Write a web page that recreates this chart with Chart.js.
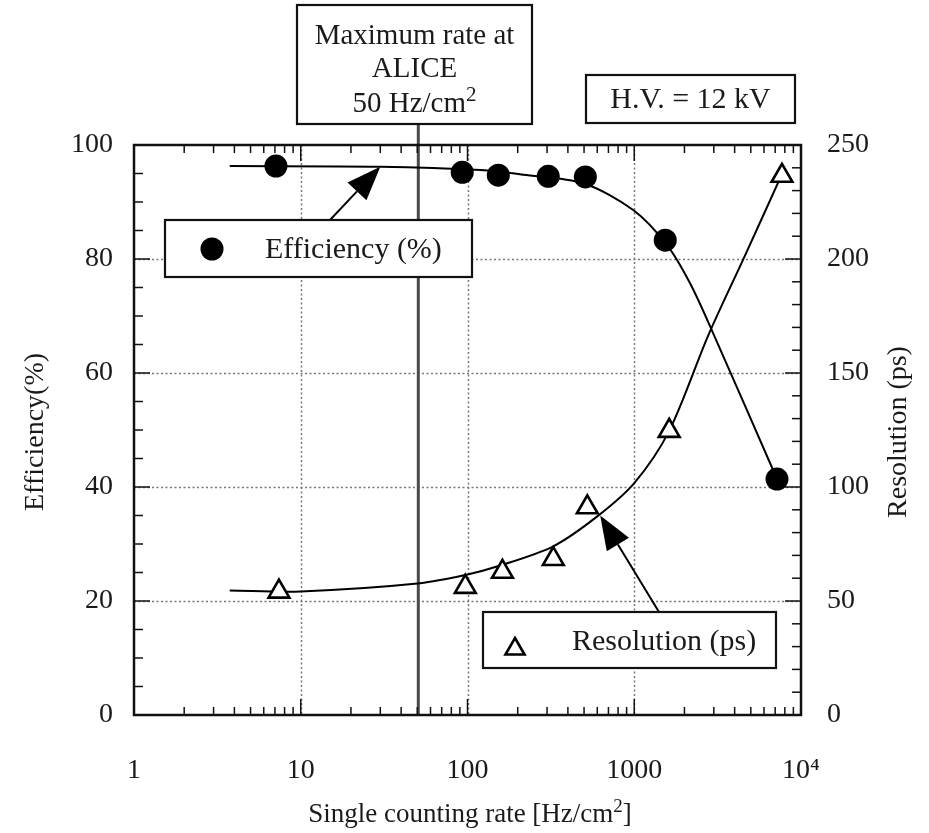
<!DOCTYPE html>
<html>
<head>
<meta charset="utf-8">
<script src="https://cdn.jsdelivr.net/npm/chart.js"></script>
<style>
html,body{margin:0;padding:0;background:#fff;}
canvas{display:block;}
</style>
</head>
<body>
<canvas id="c" width="929" height="833"></canvas>
<script>
// ---- data ----
const effRates   = [7.1, 93, 153, 305, 509, 1534, 7180];
const efficiency = [96.3, 95.2, 94.7, 94.5, 94.4, 83.3, 41.4];
const resRates   = [7.4, 97, 162, 327, 523, 1620, 7690];
const resolution = [54.1, 56.2, 62.8, 68.4, 91.1, 124.6, 236.5];

const effFitRates = [3.75, 30, 120, 216, 495, 986, 1577, 2165, 2930, 7180];
const effFit      = [96.3, 96.2, 95.6, 94.8, 93.3, 88.6, 82.4, 75.7, 67.4, 41.4];
const resFitRates = [3.75, 10, 52, 100, 150, 327, 600, 1000, 1620, 2775, 4620, 7690];
const resFit      = [54.6, 54.2, 57.8, 61.6, 65.1, 74.0, 87.1, 101.7, 124.6, 166.4, 201.6, 237.2];

const xTicks      = [1, 10, 100, 1000, 10000];
const xTickLabels = ['1', '10', '100', '1000', '10\u2074'];
const effTicks    = [0, 20, 40, 60, 80, 100];
const resTicks    = [0, 50, 100, 150, 200, 250];
const aliceRate   = 50;

const pts = (xs, ys) => xs.map((v, i) => ({x: v, y: ys[i]}));
const FONT = "'Liberation Serif', 'Times New Roman', serif";
const TXT = '#1a1a1a';

function drawParts(ctx, parts, x, y, size, align) {
  ctx.save();
  ctx.textBaseline = 'middle';
  ctx.textAlign = 'left';
  let w = 0;
  const widths = parts.map(p => {
    ctx.font = (p[1] ? Math.round(size * 0.72) : size) + 'px ' + FONT;
    const m = ctx.measureText(p[0]).width; w += m; return m;
  });
  let cx = align === 'center' ? x - w / 2 : (align === 'right' ? x - w : x);
  parts.forEach((p, i) => {
    ctx.font = (p[1] ? Math.round(size * 0.72) : size) + 'px ' + FONT;
    ctx.fillText(p[0], cx, p[1] ? y - size * 0.3 : y);
    cx += widths[i];
  });
  ctx.restore();
}

function arrow(ctx, x0, y0, x1, y1, len, hw) {
  const ang = Math.atan2(y1 - y0, x1 - x0);
  const bx = x1 - Math.cos(ang) * len, by = y1 - Math.sin(ang) * len;
  ctx.save();
  ctx.strokeStyle = '#000'; ctx.fillStyle = '#000'; ctx.lineWidth = 2;
  ctx.beginPath(); ctx.moveTo(x0, y0); ctx.lineTo(bx, by); ctx.stroke();
  ctx.beginPath();
  ctx.moveTo(x1, y1);
  ctx.lineTo(bx + Math.sin(ang) * hw, by - Math.cos(ang) * hw);
  ctx.lineTo(bx - Math.sin(ang) * hw, by + Math.cos(ang) * hw);
  ctx.closePath(); ctx.fill();
  ctx.restore();
}

function box(ctx, x, y, w, h) {
  ctx.save();
  ctx.fillStyle = '#fff'; ctx.strokeStyle = '#111'; ctx.lineWidth = 2.2;
  ctx.fillRect(x, y, w, h); ctx.strokeRect(x, y, w, h);
  ctx.restore();
}

const deco = {
  id: 'deco',
  beforeDatasetsDraw(chart) {
    const {ctx, chartArea: a, scales: {x, y}} = chart;
    ctx.save();
    ctx.strokeStyle = '#777'; ctx.lineWidth = 1.5; ctx.setLineDash([2, 2.5]);
    xTicks.slice(1, -1).forEach(v => {
      const px = Math.round(x.getPixelForValue(v)) + 0.5;
      ctx.beginPath(); ctx.moveTo(px, a.top); ctx.lineTo(px, a.bottom); ctx.stroke();
    });
    effTicks.slice(1, -1).forEach(v => {
      const py = Math.round(y.getPixelForValue(v)) + 0.5;
      ctx.beginPath(); ctx.moveTo(a.left, py); ctx.lineTo(a.right, py); ctx.stroke();
    });
    ctx.setLineDash([]);
    const ax = x.getPixelForValue(aliceRate) + 1;
    ctx.strokeStyle = '#4a4a4a'; ctx.lineWidth = 3;
    ctx.beginPath(); ctx.moveTo(ax, 124); ctx.lineTo(ax, a.bottom); ctx.stroke();
    ctx.restore();
  },
  afterDatasetsDraw(chart) {
    const {ctx, chartArea: a, scales: {x, y, y1}} = chart;
    ctx.save();
    ctx.strokeStyle = '#111'; ctx.lineWidth = 1.5;
    const tick = (x0, y0, x1, y1_) => { ctx.beginPath(); ctx.moveTo(x0, y0); ctx.lineTo(x1, y1_); ctx.stroke(); };
    for (let d = 1; d < 10000; d *= 10) {
      for (let m = 1; m < 10; m++) {
        const px = x.getPixelForValue(d * m);
        const L = m === 1 ? 16 : 8;
        tick(px, a.bottom, px, a.bottom - L);
        tick(px, a.top, px, a.top + L);
      }
    }
    for (let v = 0; v <= 100; v += 5) {
      const py = y.getPixelForValue(v);
      tick(a.left, py, a.left + (v % 20 === 0 ? 16 : 9), py);
    }
    for (let v = 0; v <= 250; v += 10) {
      const py = y1.getPixelForValue(v);
      tick(a.right, py, a.right - (v % 50 === 0 ? 16 : 9), py);
    }
    ctx.lineWidth = 2.5; ctx.strokeStyle = '#111';
    ctx.strokeRect(a.left, a.top, a.right - a.left, a.bottom - a.top);

    ctx.fillStyle = TXT;
    box(ctx, 297, 5, 235, 119);
    drawParts(ctx, [['Maximum rate at', 0]], 414.5, 36, 29, 'center');
    drawParts(ctx, [['ALICE', 0]], 414.5, 69, 29, 'center');
    drawParts(ctx, [['50 Hz/cm', 0], ['2', 1]], 414.5, 104, 29, 'center');

    box(ctx, 586, 75, 209, 48);
    drawParts(ctx, [['H.V. = 12 kV', 0]], 690.5, 100, 30, 'center');

    arrow(ctx, 330, 220, x.getPixelForValue(30), y.getPixelForValue(96.2), 34, 13);
    arrow(ctx, 659, 612, x.getPixelForValue(625), y1.getPixelForValue(87.5), 34, 13);

    box(ctx, 165, 220, 307, 57);
    ctx.fillStyle = '#000';
    ctx.beginPath(); ctx.arc(212, 249, 11.5, 0, Math.PI * 2); ctx.fill();
    ctx.fillStyle = TXT;
    drawParts(ctx, [['Efficiency (%)', 0]], 265, 250, 30, 'left');

    box(ctx, 483, 612, 293, 56);
    ctx.strokeStyle = '#000'; ctx.lineWidth = 2.6; ctx.fillStyle = '#fff';
    const tr = 11, tx = 515, ty = 649;
    ctx.beginPath();
    ctx.moveTo(tx, ty - tr);
    ctx.lineTo(tx + tr * Math.sin(2 * Math.PI / 3), ty - tr * Math.cos(2 * Math.PI / 3));
    ctx.lineTo(tx + tr * Math.sin(4 * Math.PI / 3), ty - tr * Math.cos(4 * Math.PI / 3));
    ctx.closePath(); ctx.fill(); ctx.stroke();
    ctx.fillStyle = TXT;
    drawParts(ctx, [['Resolution (ps)', 0]], 572, 642, 30, 'left');

    drawParts(ctx, [['Single counting rate [Hz/cm', 0], ['2', 1], [']', 0]], 470, 815, 27, 'center');
    ctx.save(); ctx.translate(36, 432); ctx.rotate(-Math.PI / 2);
    drawParts(ctx, [['Efficiency(%)', 0]], 0, 0, 28, 'center');
    ctx.restore();
    ctx.save(); ctx.translate(899, 432); ctx.rotate(-Math.PI / 2);
    drawParts(ctx, [['Resolution (ps)', 0]], 0, 0, 28, 'center');
    ctx.restore();
    ctx.restore();
  }
};

new Chart(document.getElementById('c'), {
  type: 'scatter',
  data: {
    datasets: [
      { label: 'Efficiency (%)', data: pts(effRates, efficiency), yAxisID: 'y',
        pointStyle: 'circle', pointRadius: 11.5, pointBackgroundColor: '#000', pointBorderColor: '#000',
        pointBorderWidth: 0, showLine: false },
      { label: 'Resolution (ps)', data: pts(resRates, resolution), yAxisID: 'y1',
        pointStyle: 'triangle', pointRadius: 12, pointBackgroundColor: '#fff', pointBorderColor: '#000',
        pointBorderWidth: 2.6, showLine: false },
      { label: 'eff fit', data: pts(effFitRates, effFit), yAxisID: 'y', showLine: true,
        borderColor: '#000', borderWidth: 2, pointRadius: 0, tension: 0.3 },
      { label: 'res fit', data: pts(resFitRates, resFit), yAxisID: 'y1', showLine: true,
        borderColor: '#000', borderWidth: 2, pointRadius: 0, tension: 0.3 }
    ]
  },
  options: {
    responsive: false, animation: false, devicePixelRatio: 1,
    layout: { padding: { top: 145, left: 0, right: 0, bottom: 0 } },
    plugins: { legend: { display: false }, tooltip: { enabled: false } },
    scales: {
      x: {
        type: 'logarithmic', min: 1, max: 10000, position: 'bottom',
        afterBuildTicks: s => { s.ticks = xTicks.map(v => ({value: v})); },
        afterFit: s => { s.height = 118; },
        grid: { display: false, drawTicks: false }, border: { display: false },
        ticks: { padding: 39, color: TXT, font: { family: FONT, size: 28 },
                 callback: v => { const i = xTicks.indexOf(v); return i >= 0 ? xTickLabels[i] : ''; },
                 maxRotation: 0, autoSkip: false }
      },
      y: {
        type: 'linear', min: 0, max: 100, position: 'left',
        afterBuildTicks: s => { s.ticks = effTicks.map(v => ({value: v})); },
        afterFit: s => { s.width = 134; },
        grid: { display: false, drawTicks: false }, border: { display: false },
        ticks: { padding: 21, color: TXT, font: { family: FONT, size: 28 } }
      },
      y1: {
        type: 'linear', min: 0, max: 250, position: 'right',
        afterBuildTicks: s => { s.ticks = resTicks.map(v => ({value: v})); },
        afterFit: s => { s.width = 128; },
        grid: { display: false, drawTicks: false }, border: { display: false },
        ticks: { padding: 26, color: TXT, font: { family: FONT, size: 28 } }
      }
    }
  },
  plugins: [deco]
});
</script>
</body>
</html>
